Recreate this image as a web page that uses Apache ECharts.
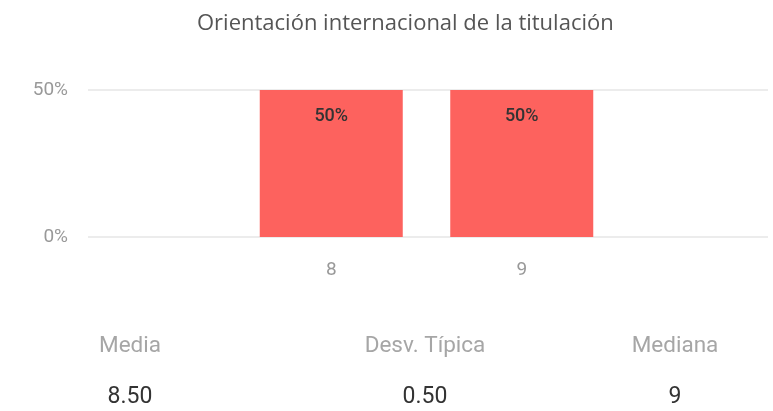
<!DOCTYPE html>
<html>
<head>
<meta charset="utf-8">
<script src="https://cdn.jsdelivr.net/npm/echarts@6/dist/echarts.min.js"></script>
<style>
html,body{margin:0;padding:0;background:#fff;}
#chart{width:773px;height:411px;}
</style>
</head>
<body>
<div id="chart"></div>
<script>
var titleText = "Orientación internacional de la titulación";
var categories = ["8", "9"];
var values = [0.5, 0.5];
var yTicks = [0, 0.5];
var statLabels = ["Media", "Desv. Típica", "Mediana"];
var statValues = ["8.50", "0.50", "9"];

var chart = echarts.init(document.getElementById('chart'), null, {renderer: 'canvas'});
var statX = [130, 425, 675];
var graphics = [];
statLabels.forEach(function (t, i) {
  graphics.push({type: 'text', x: statX[i], y: 346, style: {text: t, fill: '#a6a6a6', font: '22.5px Roboto', textAlign: 'center', textVerticalAlign: 'middle'}});
});
statValues.forEach(function (t, i) {
  graphics.push({type: 'text', x: statX[i], y: 397, style: {text: t, fill: '#333333', font: '23px Roboto', textAlign: 'center', textVerticalAlign: 'middle'}});
});

chart.setOption({
  animation: false,
  title: {text: titleText, left: 192, top: 8, textStyle: {color: '#555555', fontSize: 22, fontWeight: 'normal', fontFamily: 'Open Sans'}},
  grid: [
    {left: 88, right: 5, top: 90, bottom: 174},
    {left: 236, right: 156, top: 90, bottom: 174}
  ],
  xAxis: [
    {gridIndex: 0, type: 'value', min: 0, max: 1, show: false},
    {gridIndex: 1, type: 'category', data: categories, axisLine: {show: false}, axisTick: {show: false},
     axisLabel: {color: '#999999', fontSize: 19, fontFamily: 'Roboto', margin: 24}}
  ],
  yAxis: [
    {gridIndex: 0, type: 'value', min: yTicks[0], max: yTicks[yTicks.length - 1], interval: yTicks[1] - yTicks[0],
     axisLine: {show: false}, axisTick: {show: false},
     axisLabel: {color: '#999999', fontSize: 19, fontFamily: 'Roboto', margin: 20, formatter: function (v) { return Math.round(v * 100) + '%'; }},
     splitLine: {lineStyle: {color: '#e6e6e6', width: 1.5}}},
    {gridIndex: 1, type: 'value', min: yTicks[0], max: yTicks[yTicks.length - 1], show: false}
  ],
  graphic: graphics,
  series: [{
    type: 'bar', xAxisIndex: 1, yAxisIndex: 1, data: values, barWidth: 143,
    itemStyle: {color: '#FD625E'},
    label: {show: true, position: 'insideTop', distance: 17, color: '#333333', fontSize: 18, fontFamily: 'Roboto', fontWeight: 500,
      formatter: function (p) { return Math.round(p.value * 100) + '%'; }}
  }]
});
</script>
</body>
</html>
